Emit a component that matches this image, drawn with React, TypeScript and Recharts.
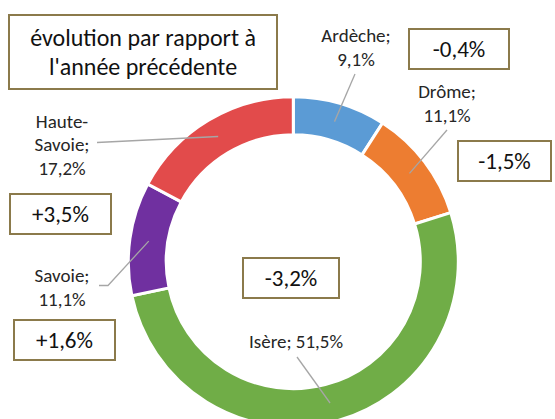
import React from "react";
import { PieChart, Pie, Cell } from "recharts";

// ---- data ----
const regions = ["Ardèche", "Drôme", "Isère", "Savoie", "Haute-Savoie"];
const shares = [9.1, 11.1, 51.5, 11.1, 17.2];
const evolutions = [-0.4, -1.5, -3.2, 1.6, 3.5];
const titleLines = ["évolution par rapport à", "l'année précédente"];

// ---- styles / layout ----
const COLORS: Record<string, string> = {
  "Ardèche": "#5B9BD5",
  "Drôme": "#ED7D31",
  "Isère": "#70AD47",
  "Savoie": "#7030A0",
  "Haute-Savoie": "#E24B4B",
};
const FONT = "Carlito, Calibri, Lato, sans-serif";
const BORDER = "#8B7A4B";

// label placement (text centre and leader line points after the ring anchor)
const LABEL_LAYOUT: Record<string, { x: number; y: number; gap: number; pts: number[][] }> = {
  "Ardèche": { x: 356, y: 35, gap: 24, pts: [[355, 74]] },
  "Drôme": { x: 447, y: 91, gap: 24, pts: [[447, 130]] },
  "Isère": { x: 296, y: 341, gap: 24, pts: [[297, 357]] },
  "Savoie": { x: 62, y: 275, gap: 24, pts: [[108, 285.5], [99, 285.5]] },
  "Haute-Savoie": { x: 62, y: 121, gap: 23.5, pts: [[97, 142.5]] },
};

// annotation boxes placement
const BOX_LAYOUT: Record<string, { left: number; top: number; w: number; h: number }> = {
  "Ardèche": { left: 408, top: 28, w: 102, h: 42 },
  "Drôme": { left: 457, top: 140, w: 95, h: 42 },
  "Isère": { left: 242, top: 257, w: 98, h: 42 },
  "Haute-Savoie": { left: 9, top: 193, w: 103, h: 42 },
  "Savoie": { left: 13, top: 319, w: 103, h: 42 },
};

const data = regions.map((name, i) => ({ name, value: shares[i] }));

const fmt = (v: number) => v.toFixed(1).replace(".", ",");
const fmtSigned = (v: number) => (v > 0 ? "+" : "") + fmt(v) + "%";

const renderLabel = (props: any) => {
  const { cx, cy, midAngle, innerRadius, outerRadius, name, value } = props;
  const RAD = Math.PI / 180;
  const r = (innerRadius + outerRadius) / 2;
  const sx = cx + r * Math.cos(-midAngle * RAD);
  const sy = cy + r * Math.sin(-midAngle * RAD);
  const L = LABEL_LAYOUT[name];
  let lines: string[];
  if (name === "Isère") lines = [`${name}; ${fmt(value)}%`];
  else if (name === "Haute-Savoie") lines = ["Haute-", "Savoie;", `${fmt(value)}%`];
  else lines = [`${name};`, `${fmt(value)}%`];
  const points = [[sx, sy], ...L.pts].map((p) => p.join(",")).join(" ");
  return (
    <g key={`lbl-${name}`}>
      <polyline points={points} fill="none" stroke="#A6A6A6" strokeWidth={1.3} />
      {lines.map((t, i) => (
        <text
          key={i}
          x={L.x}
          y={L.y + i * L.gap}
          textAnchor="middle"
          dominantBaseline="central"
          fontFamily={FONT}
          fontSize={19}
          fill="#262626"
        >
          {t}
        </text>
      ))}
    </g>
  );
};

export default function App() {
  return (
    <div style={{ position: "absolute", left: 0, top: 0, width: 555, height: 419, background: "#fff", overflow: "hidden" }}>
      <PieChart width={555} height={419} margin={{ top: 0, right: 0, bottom: 0, left: 0 }}>
        <Pie
          data={data}
          dataKey="value"
          nameKey="name"
          cx={293.3}
          cy={261.7}
          innerRadius={127}
          outerRadius={165}
          startAngle={90}
          endAngle={-270}
          stroke="#ffffff"
          strokeWidth={3}
          label={renderLabel}
          labelLine={false}
          isAnimationActive={false}
        >
          {data.map((d) => (
            <Cell key={d.name} fill={COLORS[d.name]} />
          ))}
        </Pie>
      </PieChart>
      <div
        style={{
          position: "absolute",
          left: 8,
          top: 14,
          width: 270,
          height: 76,
          boxSizing: "border-box",
          border: `2px solid ${BORDER}`,
          background: "#fff",
          display: "flex",
          flexDirection: "column",
          alignItems: "center",
          justifyContent: "center",
          fontFamily: FONT,
          fontSize: 24,
          lineHeight: "29px",
          color: "#111",
        }}
      >
        {titleLines.map((t) => (
          <div key={t}>{t}</div>
        ))}
      </div>
      {regions.map((name, i) => {
        const b = BOX_LAYOUT[name];
        return (
          <div
            key={name}
            style={{
              position: "absolute",
              left: b.left,
              top: b.top,
              width: b.w,
              height: b.h,
              boxSizing: "border-box",
              border: `2px solid ${BORDER}`,
              background: "#fff",
              display: "flex",
              alignItems: "center",
              justifyContent: "center",
              fontFamily: FONT,
              fontSize: 23,
              color: "#111",
            }}
          >
            {fmtSigned(evolutions[i])}
          </div>
        );
      })}
    </div>
  );
}
